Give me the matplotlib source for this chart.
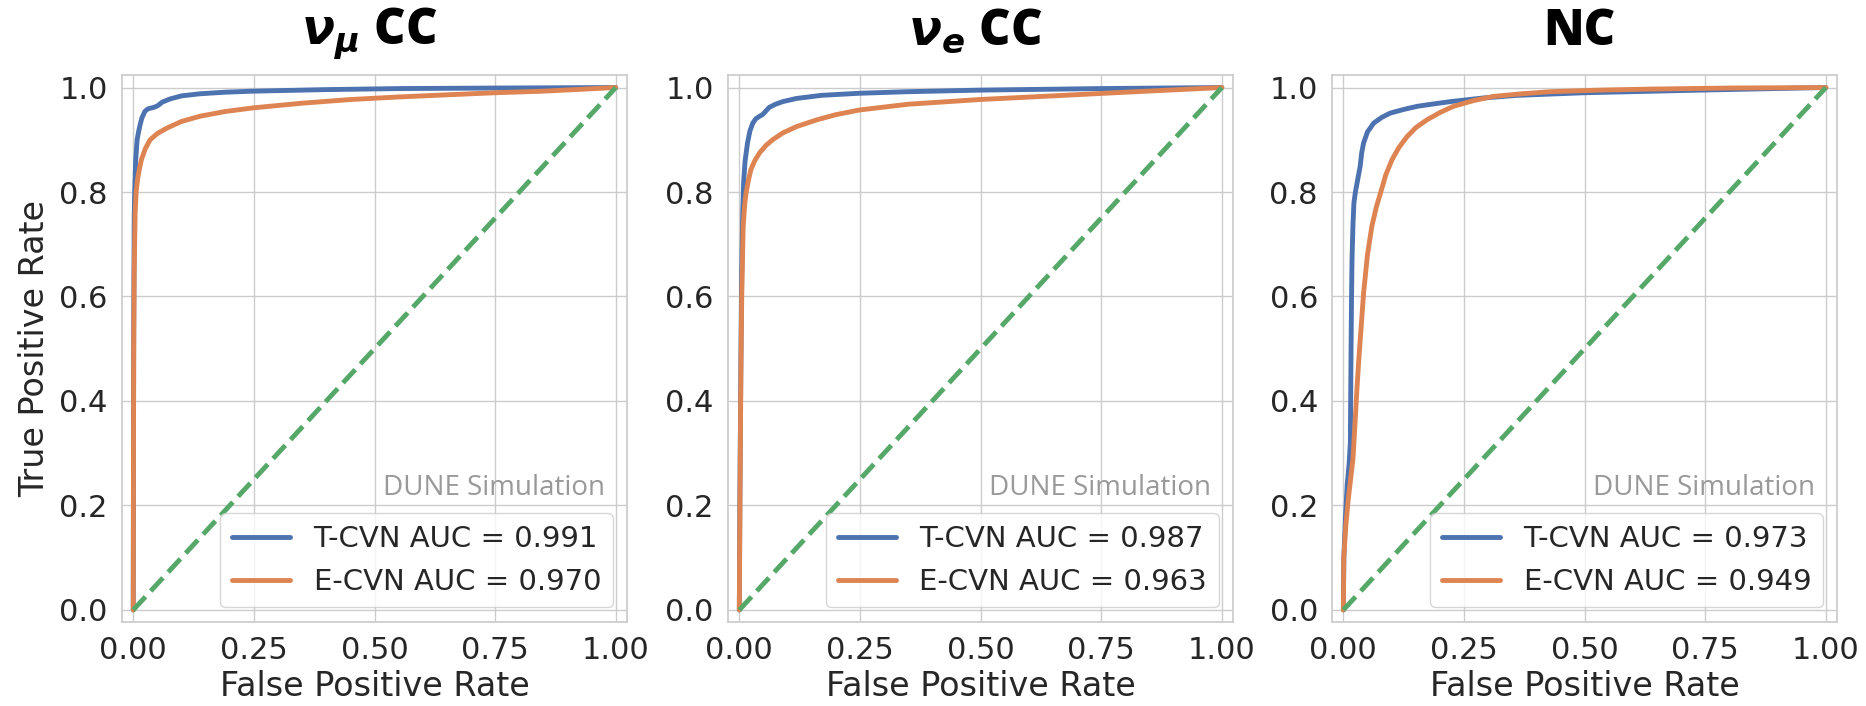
"""
ROC curves for T-CVN vs E-CVN, three interaction classes side by side.
"""

import numpy as np
import matplotlib
matplotlib.use('Agg')
import matplotlib.pyplot as plt
import seaborn as sns

sns.set_theme(style='whitegrid', palette='deep')
plt.rcParams['font.family'] = ['DejaVu Sans']
plt.rcParams['mathtext.fontset'] = 'dejavusans'

# -------------------------------------------------
# Data
# -------------------------------------------------

titles = [r'$\mathbfit{\nu}_{\mathbfit{\mu}}$ CC', r'$\mathbfit{\nu}_{\mathbfit{e}}$ CC', 'NC']
auc_t = [0.991, 0.987, 0.973]
auc_e = [0.970, 0.963, 0.949]

# nu_mu CC
numu_t_fpr = [0.0, 0.0005, 0.001, 0.002, 0.003, 0.005, 0.008, 0.011, 0.014, 0.018, 0.024, 0.030,
              0.038, 0.046, 0.052, 0.060, 0.076, 0.10, 0.138, 0.19, 0.248, 0.40, 0.552, 0.75, 1.0]
numu_t_tpr = [0.0, 0.30, 0.55, 0.75, 0.80, 0.86, 0.90, 0.915, 0.928, 0.942, 0.954, 0.959,
              0.961, 0.963, 0.966, 0.972, 0.978, 0.984, 0.988, 0.991, 0.993, 0.996, 0.998, 0.999, 1.0]
numu_e_fpr = [0.0, 0.0005, 0.001, 0.002, 0.004, 0.006, 0.009, 0.013, 0.017, 0.025, 0.035, 0.05,
              0.069, 0.10, 0.138, 0.19, 0.248, 0.35, 0.45, 0.552, 0.65, 0.75, 0.85, 1.0]
numu_e_tpr = [0.0, 0.30, 0.50, 0.65, 0.76, 0.80, 0.825, 0.845, 0.862, 0.883, 0.900, 0.912,
              0.922, 0.935, 0.945, 0.954, 0.961, 0.970, 0.977, 0.982, 0.986, 0.990, 0.993, 1.0]

# nu_e CC
nue_t_fpr = [0.0, 0.001, 0.003, 0.005, 0.007, 0.009, 0.012, 0.017, 0.022, 0.028, 0.034, 0.042,
             0.048, 0.055, 0.062, 0.075, 0.09, 0.118, 0.17, 0.249, 0.35, 0.498, 0.75, 1.0]
nue_t_tpr = [0.0, 0.20, 0.45, 0.65, 0.76, 0.82, 0.86, 0.894, 0.917, 0.932, 0.940, 0.945,
             0.948, 0.955, 0.962, 0.968, 0.973, 0.979, 0.985, 0.989, 0.992, 0.995, 0.998, 1.0]
nue_e_fpr = [0.0, 0.001, 0.002, 0.0035, 0.005, 0.008, 0.011, 0.014, 0.019, 0.024, 0.032, 0.042,
             0.055, 0.069, 0.09, 0.118, 0.16, 0.20, 0.249, 0.35, 0.498, 0.65, 0.80, 1.0]
nue_e_tpr = [0.0, 0.15, 0.30, 0.479, 0.60, 0.734, 0.775, 0.798, 0.823, 0.843, 0.860, 0.875,
             0.889, 0.900, 0.913, 0.925, 0.938, 0.948, 0.957, 0.968, 0.977, 0.984, 0.991, 1.0]

# NC
nc_t_fpr = [0.0, 0.001, 0.004, 0.008, 0.012, 0.0145, 0.016, 0.017, 0.018, 0.020, 0.022, 0.025,
            0.028, 0.032, 0.035, 0.038, 0.042, 0.05, 0.063, 0.08, 0.097, 0.125, 0.153, 0.19,
            0.222, 0.29, 0.36, 0.50, 0.739, 1.0]
nc_t_tpr = [0.0, 0.10, 0.17, 0.24, 0.28, 0.32, 0.50, 0.60, 0.671, 0.74, 0.78, 0.80,
            0.815, 0.835, 0.85, 0.875, 0.894, 0.915, 0.932, 0.943, 0.951, 0.958, 0.964, 0.969,
            0.973, 0.980, 0.985, 0.990, 0.995, 1.0]
nc_e_fpr = [0.0, 0.001, 0.005, 0.010, 0.015, 0.020, 0.025, 0.028, 0.032, 0.036, 0.042, 0.050,
            0.059, 0.068, 0.077, 0.088, 0.101, 0.115, 0.132, 0.15, 0.173, 0.20, 0.228, 0.27,
            0.311, 0.37, 0.429, 0.53, 0.636, 0.80, 1.0]
nc_e_tpr = [0.0, 0.10, 0.16, 0.21, 0.25, 0.29, 0.37, 0.42, 0.479, 0.53, 0.607, 0.68,
            0.734, 0.77, 0.798, 0.833, 0.862, 0.885, 0.906, 0.923, 0.938, 0.952, 0.964, 0.975,
            0.983, 0.988, 0.992, 0.995, 0.997, 0.999, 1.0]

t_curves = [(numu_t_fpr, numu_t_tpr), (nue_t_fpr, nue_t_tpr), (nc_t_fpr, nc_t_tpr)]
e_curves = [(numu_e_fpr, numu_e_tpr), (nue_e_fpr, nue_e_tpr), (nc_e_fpr, nc_e_tpr)]

# -------------------------------------------------
# Figure
# -------------------------------------------------

colors = sns.color_palette('deep')
fig = plt.figure(figsize=(18.66, 7.06), dpi=100)

lefts = [0.0652, 0.3900, 0.7137]
for i, left in enumerate(lefts):
    ax = fig.add_axes([left, 0.1190, 0.2710, 0.7748])

    ax.plot(*t_curves[i], color=colors[0], lw=3.5, label=f'T-CVN AUC = {auc_t[i]:.3f}')
    ax.plot(*e_curves[i], color=colors[1], lw=3.5, label=f'E-CVN AUC = {auc_e[i]:.3f}')
    ax.plot([0, 1], [0, 1], color=colors[2], lw=3.5, ls='--')

    ax.set_xlim(-0.024, 1.024)
    ax.set_ylim(-0.023, 1.024)
    ax.set_xticks([0, 0.25, 0.5, 0.75, 1.0])
    ax.set_xticklabels(['0.00', '0.25', '0.50', '0.75', '1.00'])
    ax.set_yticks([0, 0.2, 0.4, 0.6, 0.8, 1.0])
    ax.set_yticklabels(['0.0', '0.2', '0.4', '0.6', '0.8', '1.0'])
    ax.tick_params(labelsize=22, pad=4)

    ax.set_xlabel('False Positive Rate', fontsize=24, labelpad=4)
    if i == 0:
        ax.set_ylabel('True Positive Rate', fontsize=24, labelpad=6)

    ax.text(0.49, 1.055, titles[i], transform=ax.transAxes, ha='center', va='baseline',
            fontsize=35, fontweight='heavy', family='Open Sans', color='black')
    ax.text(0.955, 0.232, 'DUNE Simulation', transform=ax.transAxes, ha='right',
            va='baseline', fontsize=20, family='Open Sans', color='#999999')

    ax.legend(loc='lower right', fontsize=21)

fig.savefig('out.png', dpi=100)
plt.close(fig)
